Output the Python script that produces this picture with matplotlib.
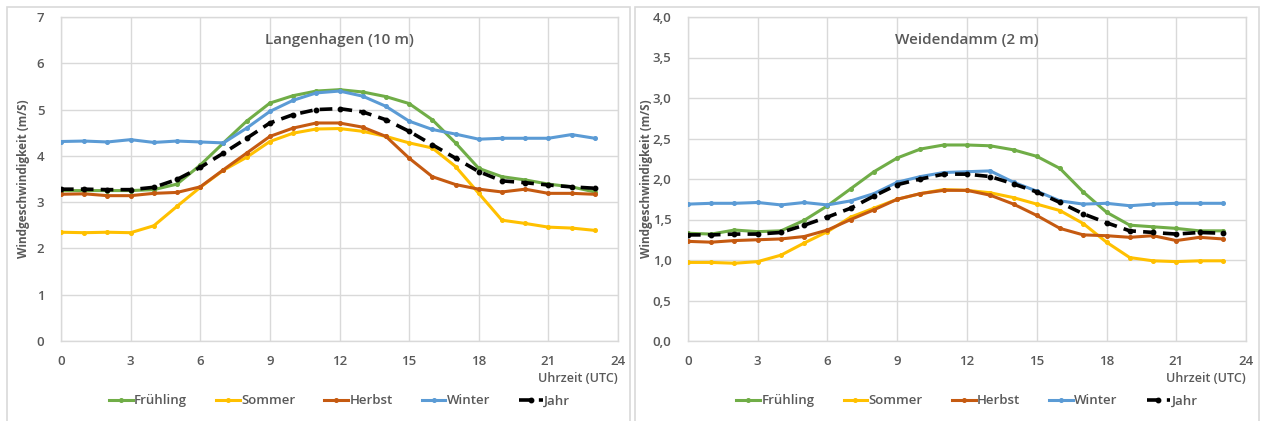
import matplotlib
matplotlib.use("Agg")
import matplotlib.pyplot as plt
from matplotlib.patches import Rectangle

hours = list(range(24))

# Langenhagen (10 m)
lh_fruehling = [3.25, 3.25, 3.25, 3.25, 3.27, 3.39, 3.80, 4.28, 4.75, 5.14, 5.30, 5.40,
                5.43, 5.38, 5.28, 5.13, 4.78, 4.28, 3.73, 3.55, 3.48, 3.39, 3.33, 3.22]
lh_sommer = [2.35, 2.34, 2.35, 2.34, 2.49, 2.91, 3.32, 3.69, 3.97, 4.31, 4.49, 4.58,
             4.59, 4.53, 4.42, 4.28, 4.17, 3.77, 3.19, 2.61, 2.54, 2.46, 2.44, 2.39]
lh_herbst = [3.17, 3.18, 3.14, 3.14, 3.19, 3.21, 3.33, 3.70, 4.06, 4.42, 4.60, 4.71,
             4.71, 4.62, 4.42, 3.95, 3.55, 3.38, 3.28, 3.22, 3.28, 3.19, 3.19, 3.17]
lh_winter = [4.31, 4.32, 4.30, 4.35, 4.29, 4.32, 4.30, 4.28, 4.60, 4.96, 5.20, 5.36,
             5.40, 5.29, 5.07, 4.75, 4.57, 4.47, 4.36, 4.38, 4.38, 4.38, 4.46, 4.38]
lh_jahr = [3.28, 3.28, 3.27, 3.27, 3.32, 3.49, 3.75, 4.06, 4.38, 4.71, 4.89, 5.00,
           5.02, 4.95, 4.78, 4.53, 4.24, 3.95, 3.66, 3.46, 3.42, 3.37, 3.33, 3.30]

# Weidendamm (2 m)
wd_fruehling = [1.33, 1.32, 1.37, 1.35, 1.36, 1.49, 1.67, 1.88, 2.09, 2.26, 2.37, 2.42,
                2.42, 2.41, 2.36, 2.28, 2.13, 1.84, 1.59, 1.43, 1.41, 1.39, 1.36, 1.36]
wd_sommer = [0.97, 0.97, 0.96, 0.98, 1.06, 1.21, 1.35, 1.53, 1.64, 1.75, 1.82, 1.87,
             1.86, 1.83, 1.77, 1.69, 1.61, 1.45, 1.22, 1.03, 0.99, 0.98, 0.99, 0.99]
wd_herbst = [1.23, 1.22, 1.24, 1.25, 1.26, 1.29, 1.37, 1.50, 1.62, 1.75, 1.82, 1.86,
             1.86, 1.80, 1.69, 1.55, 1.39, 1.31, 1.30, 1.28, 1.30, 1.24, 1.28, 1.26]
wd_winter = [1.69, 1.70, 1.70, 1.71, 1.68, 1.71, 1.68, 1.73, 1.82, 1.96, 2.03, 2.08,
             2.09, 2.10, 1.96, 1.85, 1.73, 1.69, 1.70, 1.67, 1.69, 1.70, 1.70, 1.70]
wd_jahr = [1.31, 1.31, 1.32, 1.32, 1.34, 1.43, 1.53, 1.64, 1.79, 1.93, 2.00, 2.06,
           2.06, 2.03, 1.94, 1.84, 1.71, 1.57, 1.46, 1.36, 1.34, 1.32, 1.34, 1.33]

series_names = ["Frühling", "Sommer", "Herbst", "Winter", "Jahr"]
colors = ["#70AD47", "#FFC000", "#C55A11", "#5B9BD5", "#000000"]

titles = ["Langenhagen (10 m)", "Weidendamm (2 m)"]
ylabel = "Windgeschwindigkeit (m/S)"
xlabel = "Uhrzeit (UTC)"
xticks = [0, 3, 6, 9, 12, 15, 18, 21, 24]
lh_yticks = [0, 1, 2, 3, 4, 5, 6, 7]
lh_yticklabels = ["0", "1", "2", "3", "4", "5", "6", "7"]
wd_yticks = [0.0, 0.5, 1.0, 1.5, 2.0, 2.5, 3.0, 3.5, 4.0]
wd_yticklabels = ["0,0", "0,5", "1,0", "1,5", "2,0", "2,5", "3,0", "3,5", "4,0"]

plt.rcParams['font.family'] = ['Open Sans', 'DejaVu Sans']
TXT = "#595959"
GRID = "#d9d9d9"

fig = plt.figure(figsize=(12.61, 4.21), dpi=100)
W, H = 1261, 421

# panel borders
for (x0, x1) in [(6.5, 630), (635, 1259)]:
    fig.patches.append(Rectangle((x0 / W, -0.05), (x1 - x0) / W, (H - 6.5) / H + 0.05,
                                 transform=fig.transFigure, fill=False,
                                 edgecolor=GRID, linewidth=1.2))

panels = [
    dict(left=61, right=618, data=[lh_fruehling, lh_sommer, lh_herbst, lh_winter, lh_jahr],
         yticks=lh_yticks, ylabels=lh_yticklabels, ylim=(0, 7), title=titles[0], ylx=30),
    dict(left=688, right=1246, data=[wd_fruehling, wd_sommer, wd_herbst, wd_winter, wd_jahr],
         yticks=wd_yticks, ylabels=wd_yticklabels, ylim=(0, 4), title=titles[1], ylx=653),
]

top_px, bot_px = 17, 341
for p in panels:
    ax = fig.add_axes([p['left'] / W, (H - bot_px) / H, (p['right'] - p['left']) / W,
                       (bot_px - top_px) / H])
    for name, col, vals in zip(series_names, colors, p['data']):
        if name == "Jahr":
            ax.plot(hours, vals, color=col, lw=2.6, ls=(0, (3.5, 2.0)), marker='o',
                    markersize=3.2, label=name, zorder=5)
        else:
            ax.plot(hours, vals, color=col, lw=2.2, marker='o', markersize=2.6,
                    label=name, zorder=3)
    ax.set_xlim(0, 24)
    ax.set_ylim(*p['ylim'])
    ax.set_xticks(xticks)
    ax.set_yticks(p['yticks'])
    ax.set_yticklabels(p['ylabels'])
    ax.grid(True, color=GRID, lw=1.0)
    ax.set_axisbelow(True)
    for s in ax.spines.values():
        s.set_color(GRID)
        s.set_linewidth(1.0)
    ax.tick_params(length=0, colors=TXT, labelsize=9.5, pad=10)
    ax.tick_params(axis='y', pad=12)
    for lab in ax.get_xticklabels() + ax.get_yticklabels():
        lab.set_fontweight('semibold')
    ax.text(0.5, 0.93, p['title'], transform=ax.transAxes, ha='center', va='center',
            fontsize=11, color=TXT, fontweight='semibold')
    ax.text(1.0, -0.115, xlabel, transform=ax.transAxes, ha='right', va='center',
            fontsize=9, color=TXT, fontweight='semibold')
    ax.set_ylabel(ylabel, fontsize=8.5, color=TXT, fontweight='bold')
    ax.yaxis.set_label_coords((p['ylx'] - p['left']) / (p['right'] - p['left']), 0.5)
    leg = ax.legend(loc='center', bbox_to_anchor=(0.5, -0.185), ncol=5, frameon=False,
                    fontsize=9.5, handlelength=1.8, columnspacing=2.2, handletextpad=0.1,
                    borderaxespad=0)
    for t in leg.get_texts():
        t.set_color(TXT)
        t.set_fontweight('semibold')

fig.savefig("out.png", dpi=100, facecolor="white")
